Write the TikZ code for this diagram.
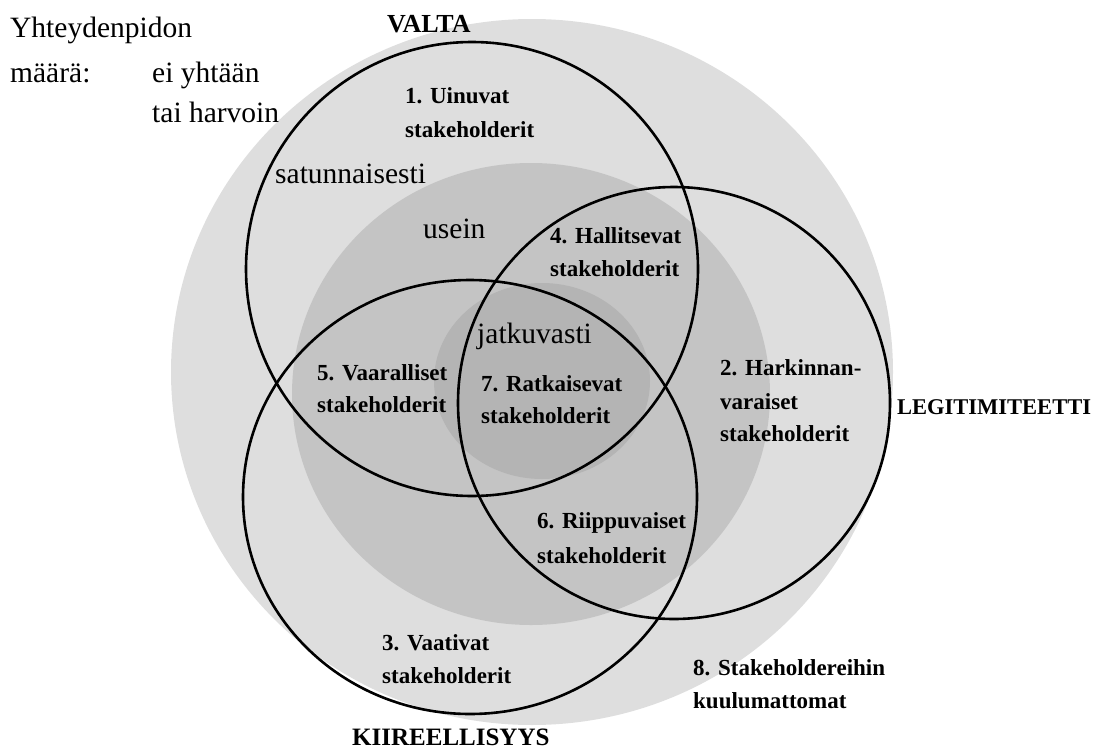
\documentclass[tikz,border=0pt]{standalone}
\usepackage{fontspec}
\setmainfont{Liberation Serif}
\definecolor{bandout}{gray}{0.870}
\definecolor{bandmid}{gray}{0.770}
\definecolor{bandin}{gray}{0.705}
\begin{document}
\begin{tikzpicture}[x=1pt,y=-1pt,
  ring/.style={draw=black, line width=2.6pt},
  grp/.style={anchor=base west, inner sep=0pt, font=\fontsize{23}{24}\selectfont\bfseries},
  lvl/.style={anchor=base west, inner sep=0pt, font=\fontsize{29.5}{30}\selectfont},
  attr/.style={anchor=base west, inner sep=0pt, font=\fontsize{22.5}{26}\selectfont\bfseries}]
\useasboundingbox (0,0) rectangle (1106,755);

% contact-frequency bands
\fill[bandout] (532,372) ellipse [x radius=361, y radius=353];
\fill[bandmid] (531,394) ellipse [x radius=239, y radius=231];
\fill[bandin]  (542,381) ellipse [x radius=108, y radius=98];

% attribute circles
\draw[ring] (472,269) ellipse [x radius=226, y radius=227];
\draw[ring] (674,403) ellipse [x radius=216, y radius=216];
\draw[ring] (470,497) ellipse [x radius=227, y radius=217];

% legend
\node[lvl] (yh)  at (10,37)  {Yhteydenpidon};
\node[lvl] (ma)  at (10,82)  {määrä:};
\node[lvl] (ei)  at (152,82) {ei yhtään};
\node[lvl] (th)  at (152,122) {tai harvoin};
\node[lvl] (sat) at (275,183) {satunnaisesti};
\node[lvl] (us)  at (423,238) {usein};
\node[lvl] (jat) at (477,343) {jatkuvasti};

% attribute names
\node[attr, font=\fontsize{26}{26}\selectfont\bfseries] (valta) at (387,32) {VALTA};
\node[attr] (legit) at (897,414) {LEGITIMITEETTI};
\node[attr, font=\fontsize{25}{26}\selectfont\bfseries] (kiir) at (352,745) {KIIREELLISYYS};

% stakeholder classes
\node[grp] (g1a) at (405,103) {1. Uinuvat};
\node[grp] (g1b) at (405,137) {stakeholderit};
\node[grp] (g4a) at (550,243) {4. Hallitsevat};
\node[grp] (g4b) at (550,276) {stakeholderit};
\node[grp] (g5a) at (317,380) {5. Vaaralliset};
\node[grp] (g5b) at (317,412) {stakeholderit};
\node[grp] (g7a) at (481,391) {7. Ratkaisevat};
\node[grp] (g7b) at (481,423) {stakeholderit};
\node[grp] (g2a) at (720,375) {2. Harkinnan-};
\node[grp] (g2b) at (720,409) {varaiset};
\node[grp] (g2c) at (720,441) {stakeholderit};
\node[grp] (g6a) at (537,528) {6. Riippuvaiset};
\node[grp] (g6b) at (537,563) {stakeholderit};
\node[grp] (g3a) at (382,650) {3. Vaativat};
\node[grp] (g3b) at (382,683) {stakeholderit};
\node[grp] (g8a) at (693,675) {8. Stakeholdereihin};
\node[grp] (g8b) at (693,708) {kuulumattomat};
\end{tikzpicture}
\end{document}
